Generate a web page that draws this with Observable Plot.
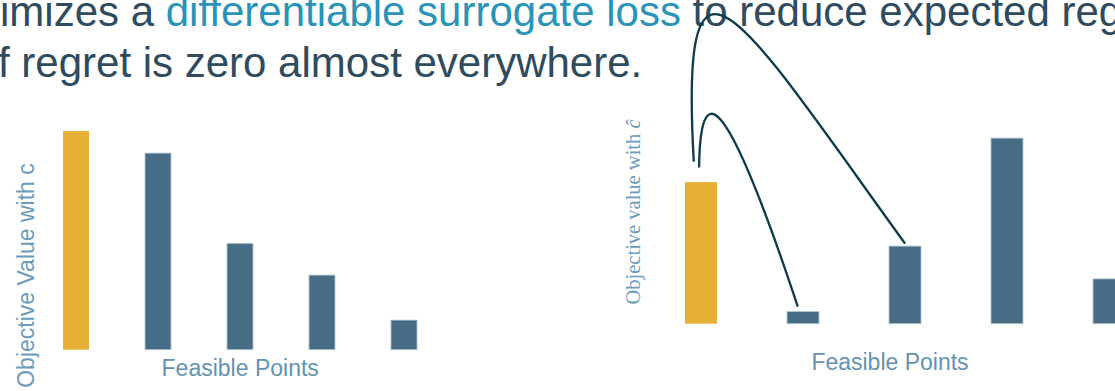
<!DOCTYPE html>
<html>
<head>
<meta charset="utf-8">
<script src="https://cdn.jsdelivr.net/npm/d3@7"></script>
<script src="https://cdn.jsdelivr.net/npm/@observablehq/plot@0.6"></script>
<style>
  html, body { margin: 0; padding: 0; background: #ffffff; }
  #stage { position: relative; width: 1115px; height: 391px; overflow: hidden; font-family: "Liberation Sans", Arial, sans-serif; }
  .line { position: absolute; white-space: nowrap; font-size: 42px; line-height: 42px; color: #2f4b5e; }
  .hl { color: #2a94b8; }
  #left { position: absolute; left: 0; top: 100px; width: 460px; }
  #right { position: absolute; left: 600px; top: 0; width: 560px; }
  #left svg, #right svg { max-width: none !important; }
</style>
</head>
<body>
<div id="stage">
  <div class="line" style="left:0px; top:-8.6px">imizes a <span class="hl">differentiable surrogate loss</span> to reduce expected regret</div>
  <div class="line" style="left:-2px; top:41.6px">f regret is zero almost everywhere.</div>
  <div id="left"></div>
  <div id="right"></div>
</div>
<script>
// Feasible points of the decision problem and their objective values
const feasiblePoints = ["A", "B", "C", "D", "E"];
const objectiveTrue = [10.93, 9.83, 5.32, 3.73, 1.48];   // under the true cost c
const objectivePred = [7.08, 0.61, 3.88, 9.28, 2.24];    // under the predicted cost ĉ
const chosenPoint = "A";

// Axis titles
const xTitle = "Feasible Points";
const yTitleTrue = "Objective Value with c";
const yTitlePred = "Objective value with ĉ";

// Curved connectors on the predicted-cost panel
const regretLinks = [
  {from: "A", to: "C"},
  {from: "A", to: "B"}
];

const GOLD = "#e6b036";
const SLATE = "#476d86";
const LABEL = "#6393b1";

const rowsTrue = feasiblePoints.map((p, i) => ({point: p, value: objectiveTrue[i], chosen: p === chosenPoint}));
const rowsPred = feasiblePoints.map((p, i) => ({point: p, value: objectivePred[i], chosen: p === chosenPoint}));
const predOf = (p) => objectivePred[feasiblePoints.indexOf(p)];
const linkRows = regretLinks.map(l => ({x1: l.from, y1: predOf(l.from), x2: l.to, y2: predOf(l.to)}));

// A curve factory that draws one cubic Bézier between the two link endpoints,
// with pixel offsets for the endpoints and the two control points.
function hookCurve(startOffset, ctrl1, ctrl2, endOffset) {
  return function(context) {
    let pts = [];
    return {
      areaStart() {}, areaEnd() {},
      lineStart() { pts = []; },
      point(x, y) { pts.push([+x, +y]); },
      lineEnd() {
        const [a, b] = pts;
        const x0 = a[0] + startOffset[0], y0 = a[1] + startOffset[1];
        const x3 = b[0] + endOffset[0], y3 = b[1] + endOffset[1];
        context.moveTo(x0, y0);
        context.bezierCurveTo(x0 + ctrl1[0], y0 + ctrl1[1], x3 + ctrl2[0], y3 + ctrl2[1], x3, y3);
      }
    };
  };
}

function bars(rows) {
  return [
    Plot.barY(rows, {filter: d => d.chosen, x: "point", y: "value", fill: GOLD}),
    Plot.barY(rows, {filter: d => !d.chosen, x: "point", y: "value", fill: SLATE, stroke: "#b4c5d1", strokeWidth: 0.8})
  ];
}

// Left panel: objective under the true cost
const left = Plot.plot({
  width: 460, height: 291, margin: 0,
  x: {domain: feasiblePoints, range: [62, 417.2], paddingInner: 0.684, paddingOuter: 0, axis: null},
  y: {domain: [0, 11], range: [249.7, 29.7], axis: null},
  marks: [
    ...bars(rowsTrue),
    Plot.text([xTitle], {text: d => d, frameAnchor: "bottom", lineAnchor: "bottom", dx: 9.7, dy: -16,
      fontSize: 23, fontFamily: "Liberation Sans", fill: LABEL}),
    Plot.text([yTitleTrue], {text: d => d, frameAnchor: "left", rotate: -90, textAnchor: "middle", lineAnchor: "bottom",
      dx: 33, dy: 29.5, fontSize: 23, fontFamily: "Liberation Sans", fill: "#6a9bba"})
  ]
});
left.style.maxWidth = "none";
document.getElementById("left").appendChild(left);

// Right panel: objective under the predicted cost, with connectors
const right = Plot.plot({
  width: 560, height: 391, margin: 0,
  x: {domain: feasiblePoints, range: [83, 527.03], paddingInner: 0.689, paddingOuter: 0, axis: null},
  y: {domain: [0, 10], range: [323.7, 123.7], axis: null},
  marks: [
    ...bars(rowsPred),
    Plot.link(linkRows.slice(0, 1), {x1: "x1", y1: "y1", x2: "x2", y2: "y2",
      curve: hookCurve([-7.7, -21], [-14.7, -256], [-165, -228], [-0.4, -3]),
      stroke: "#0d3b4c", strokeWidth: 2.3}),
    Plot.link(linkRows.slice(1, 2), {x1: "x1", y1: "y1", x2: "x2", y2: "y2",
      curve: hookCurve([-2.4, -15], [1, -87], [-75, -226], [-5.7, -5.3]),
      stroke: "#0d3b4c", strokeWidth: 2.3}),
    Plot.text([xTitle], {text: d => d, frameAnchor: "bottom", lineAnchor: "bottom", dx: 9.5, dy: -22,
      fontSize: 23, fontFamily: "Liberation Sans", fill: LABEL}),
    Plot.text([yTitlePred], {text: d => d, frameAnchor: "left", rotate: -90, textAnchor: "middle", lineAnchor: "bottom",
      dx: 39, dy: 16, fontSize: 20.5, fontFamily: "Liberation Serif", fill: "#6a9bba"})
  ]
});
right.style.maxWidth = "none";
right.style.overflow = "visible";
document.getElementById("right").appendChild(right);

// Set the cost symbol ĉ in italic, as a math variable
right.querySelectorAll("text").forEach(t => {
  if (t.textContent === yTitlePred) {
    const head = yTitlePred.slice(0, -1);
    t.textContent = head;
    const sym = document.createElementNS("http://www.w3.org/2000/svg", "tspan");
    sym.setAttribute("font-style", "italic");
    sym.textContent = yTitlePred.slice(-1);
    t.appendChild(sym);
  }
});
</script>
</body>
</html>
